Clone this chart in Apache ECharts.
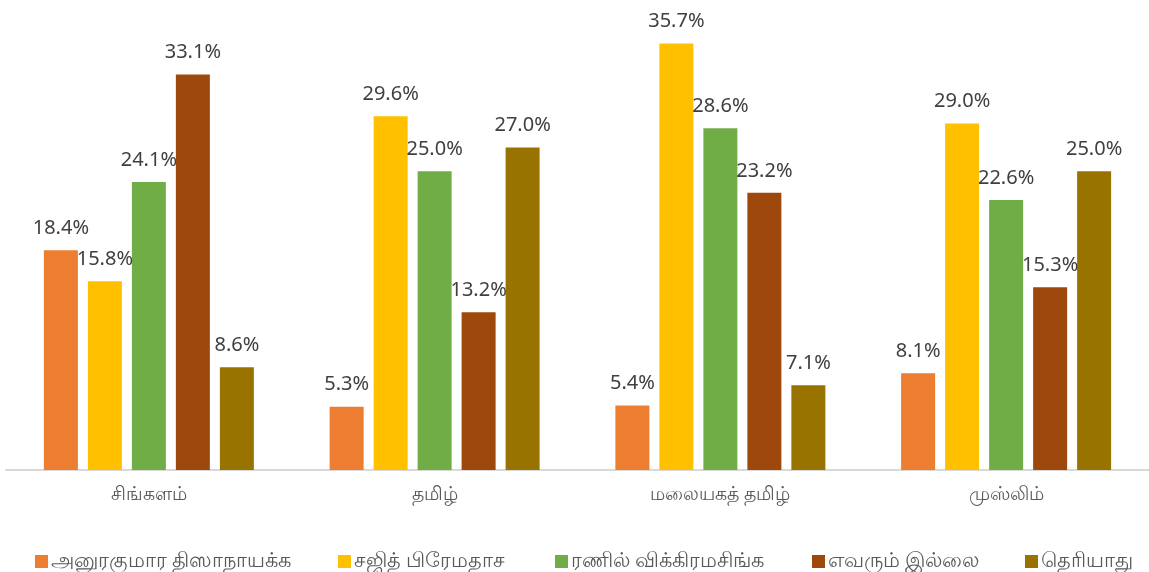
<!DOCTYPE html>
<html>
<head>
<meta charset="utf-8">
<script src="https://cdn.jsdelivr.net/npm/echarts@6/dist/echarts.min.js"></script>
<style>
  html, body { margin: 0; padding: 0; background: #ffffff; }
  #chart { width: 1149px; height: 572px; }
</style>
</head>
<body>
<div id="chart"></div>
<script>
// Voting preference by community (percent)
const categories = ['சிங்களம்', 'தமிழ்', 'மலையகத் தமிழ்', 'முஸ்லிம்'];
const seriesNames = ['அனுரகுமார திஸாநாயக்க', 'சஜித் பிரேமதாச', 'ரணில் விக்கிரமசிங்க', 'எவரும் இல்லை', 'தெரியாது'];
const anura   = [18.4, 5.3, 5.4, 8.1];
const sajith  = [15.8, 29.6, 35.7, 29.0];
const ranil   = [24.1, 25.0, 28.6, 22.6];
const none    = [33.1, 13.2, 23.2, 15.3];
const unknown = [8.6, 27.0, 7.1, 25.0];
const seriesValues = [anura, sajith, ranil, none, unknown];
const colors = ['#ED7D31', '#FFC000', '#70AD47', '#9E480E', '#997300'];

const fontFamily = '"Noto Sans", "Open Sans", sans-serif';

// one legend block per entry, laid out along the bottom row
const legendLeft = [35, 338, 555, 812, 1025];
const legends = seriesNames.map((name, i) => ({
  data: [name],
  left: legendLeft[i],
  top: 551,
  itemWidth: 13,
  itemHeight: 13,
  icon: 'rect',
  padding: 0,
  textStyle: { color: '#595959', fontSize: 20.6, fontFamily: fontFamily, padding: [0, 0, 0, -2] }
}));

const chart = echarts.init(document.getElementById('chart'));
chart.setOption({
  animation: false,
  backgroundColor: '#ffffff',
  grid: { left: 6, right: 0, top: 16, bottom: 102, containLabel: false },
  xAxis: {
    type: 'category',
    data: categories,
    axisLine: { show: true, lineStyle: { color: '#D9D9D9', width: 2 } },
    axisTick: { show: false },
    axisLabel: { color: '#595959', fontSize: 19, margin: 15, fontFamily: fontFamily }
  },
  yAxis: {
    type: 'value',
    min: 0,
    max: 38,
    show: false,
    splitLine: { show: false }
  },
  legend: legends,
  series: seriesNames.map((name, i) => ({
    name: name,
    type: 'bar',
    data: seriesValues[i],
    barWidth: 34,
    barGap: '29.4%',
    itemStyle: { color: colors[i] },
    label: {
      show: true,
      position: 'top',
      distance: 12,
      color: '#404040',
      fontSize: 20,
      fontFamily: fontFamily,
      formatter: p => p.value.toFixed(1) + '%'
    }
  }))
});
</script>
</body>
</html>
